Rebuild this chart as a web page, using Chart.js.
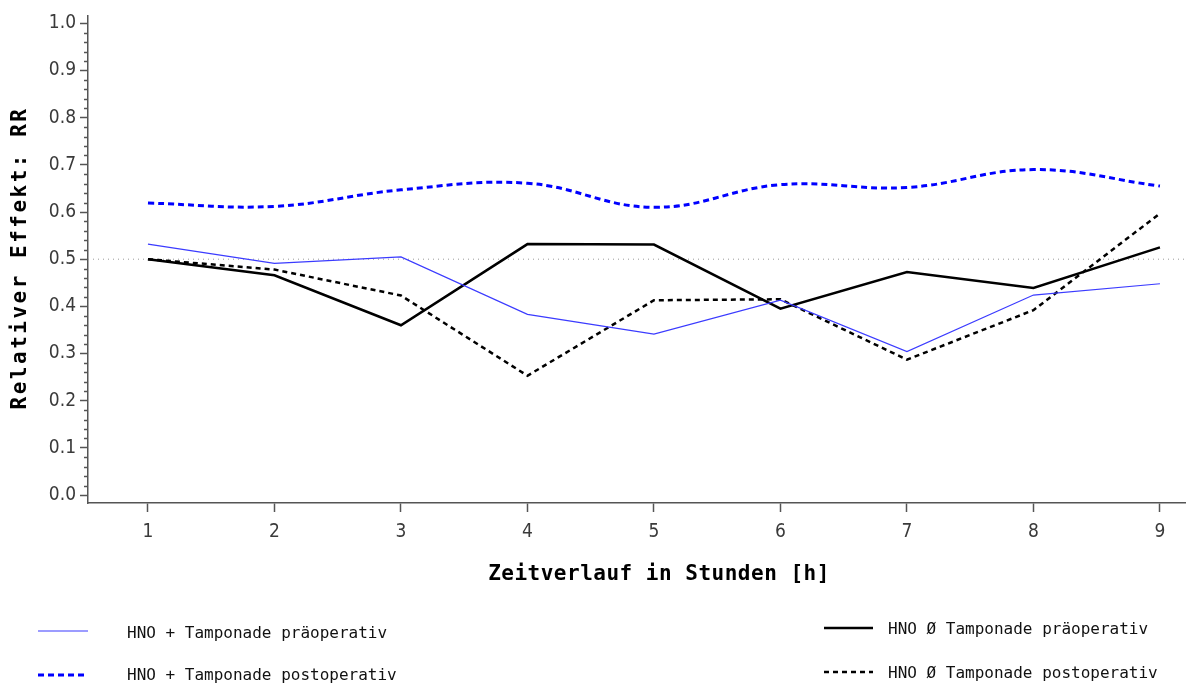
<!DOCTYPE html>
<html>
<head>
<meta charset="utf-8">
<script src="https://cdn.jsdelivr.net/npm/chart.js@4"></script>
<style>
  html, body { margin: 0; padding: 0; background: #fff; }
  canvas { display: block; }
</style>
</head>
<body>
<canvas id="rrChart" width="1203" height="684"></canvas>
<script>
// --- Daten ---
const hours = [1, 2, 3, 4, 5, 6, 7, 8, 9];
const plusPrae = [0.532, 0.491, 0.505, 0.383, 0.341, 0.413, 0.304, 0.424, 0.448];
const plusPost = [0.619, 0.612, 0.647, 0.661, 0.610, 0.658, 0.652, 0.690, 0.655];
const ohnePrae = [0.500, 0.466, 0.360, 0.532, 0.531, 0.395, 0.473, 0.439, 0.525];
const ohnePost = [0.500, 0.478, 0.423, 0.253, 0.413, 0.415, 0.287, 0.392, 0.597];
const seriesNames = [
    'HNO + Tamponade präoperativ',
    'HNO + Tamponade postoperativ',
    'HNO Ø Tamponade präoperativ',
    'HNO Ø Tamponade postoperativ'
];
const yTicks = [0, 0.1, 0.2, 0.3, 0.4, 0.5, 0.6, 0.7, 0.8, 0.9, 1.0];
const refValue = 0.5;

const xMin = 0.526, xMax = 9.198;
const yMin = -0.0169, yMax = 1.0169;

const toPoints = (vals) => vals.map((v, i) => ({ x: hours[i], y: v }));

// Titel, Nebenmarken und Legende
const extras = {
    id: 'extras',
    afterDraw(chart) {
        const ctx = chart.ctx;
        const y = chart.scales.y;
        const area = chart.chartArea;

        // kleine Striche alle 0.02
        ctx.save();
        ctx.strokeStyle = '#555';
        ctx.lineWidth = 1.5;
        for (let k = 1; k < 50; k++) {
            if (k % 5 === 0) continue;
            const py = Math.round(y.getPixelForValue(k * 0.02)) + 0.5;
            ctx.beginPath();
            ctx.moveTo(area.left - 4, py);
            ctx.lineTo(area.left, py);
            ctx.stroke();
        }
        ctx.restore();

        // Achsentitel
        ctx.save();
        ctx.fillStyle = '#000';
        ctx.font = 'bold 21px "DejaVu Sans Mono"';
        ctx.textAlign = 'center';
        ctx.textBaseline = 'middle';
        ctx.letterSpacing = '0.5px';
        ctx.fillText('Zeitverlauf in Stunden [h]', 659, 575);
        ctx.translate(21, 258);
        ctx.rotate(-Math.PI / 2);
        ctx.letterSpacing = '2.5px';
        ctx.fillText('Relativer Effekt: RR', 0, 0);
        ctx.restore();

        // Legende
        const slots = [
            { x1: 38, x2: 88, ly: 631, tx: 127, ty: 634 },
            { x1: 38, x2: 88, ly: 675, tx: 127, ty: 676 },
            { x1: 824, x2: 873, ly: 628, tx: 888, ty: 630 },
            { x1: 824, x2: 873, ly: 672, tx: 888, ty: 674 }
        ];
        ctx.save();
        ctx.font = '16px "DejaVu Sans Mono"';
        ctx.textBaseline = 'middle';
        ctx.textAlign = 'left';
        chart.data.datasets.slice(0, 4).forEach((ds, i) => {
            const s = slots[i];
            ctx.strokeStyle = ds.borderColor;
            ctx.lineWidth = ds.borderWidth;
            ctx.setLineDash(ds.borderDash || []);
            ctx.beginPath();
            ctx.moveTo(s.x1, s.ly);
            ctx.lineTo(s.x2, s.ly);
            ctx.stroke();
            ctx.setLineDash([]);
            ctx.fillStyle = '#111';
            ctx.fillText(seriesNames[i], s.tx, s.ty);
        });
        ctx.restore();
    }
};

const ctx = document.getElementById('rrChart').getContext('2d');

new Chart(ctx, {
    type: 'line',
    data: {
        datasets: [
            {
                label: seriesNames[0],
                data: toPoints(plusPrae),
                borderColor: '#3b3bff',
                borderWidth: 1.2,
                tension: 0
            },
            {
                label: seriesNames[1],
                data: toPoints(plusPost),
                borderColor: '#0000ff',
                borderWidth: 3,
                borderDash: [6, 4],
                tension: 0.4
            },
            {
                label: seriesNames[2],
                data: toPoints(ohnePrae),
                borderColor: '#000',
                borderWidth: 2.5,
                tension: 0
            },
            {
                label: seriesNames[3],
                data: toPoints(ohnePost),
                borderColor: '#000',
                borderWidth: 2.5,
                borderDash: [5, 4],
                tension: 0
            },
            {
                label: 'ref',
                data: [{ x: xMin, y: refValue }, { x: xMax, y: refValue }],
                borderColor: '#999',
                borderWidth: 1,
                borderDash: [1, 4],
                tension: 0
            }
        ]
    },
    options: {
        responsive: false,
        animation: false,
        elements: { point: { radius: 0 } },
        layout: { padding: { top: 13, right: 18, left: 0, bottom: 0 } },
        plugins: {
            legend: { display: false },
            tooltip: { enabled: false }
        },
        scales: {
            x: {
                type: 'linear',
                min: xMin,
                max: xMax,
                afterBuildTicks: (scale) => { scale.ticks = hours.map(v => ({ value: v })); },
                afterFit: (scale) => { scale.height = 181; },
                grid: { drawOnChartArea: false, tickLength: 9, tickWidth: 1.5, tickColor: '#555' },
                border: { color: '#555', width: 1.5 },
                ticks: {
                    padding: 9,
                    color: '#3a3a3a',
                    font: { family: '"Liberation Sans Narrow", "DejaVu Sans Condensed", sans-serif', size: 19 },
                    callback: (v) => String(v)
                }
            },
            y: {
                min: yMin,
                max: yMax,
                afterBuildTicks: (scale) => { scale.ticks = yTicks.map(v => ({ value: v })); },
                afterFit: (scale) => { scale.width = 88; },
                grid: { drawOnChartArea: false, tickLength: 8, tickWidth: 1.5, tickColor: '#555' },
                border: { color: '#555', width: 1.5 },
                ticks: {
                    padding: 4,
                    color: '#3a3a3a',
                    font: { family: '"Liberation Sans Narrow", "DejaVu Sans Condensed", sans-serif', size: 19 },
                    callback: (v) => Number(v).toFixed(1)
                }
            }
        }
    },
    plugins: [extras]
});
</script>
</body>
</html>
